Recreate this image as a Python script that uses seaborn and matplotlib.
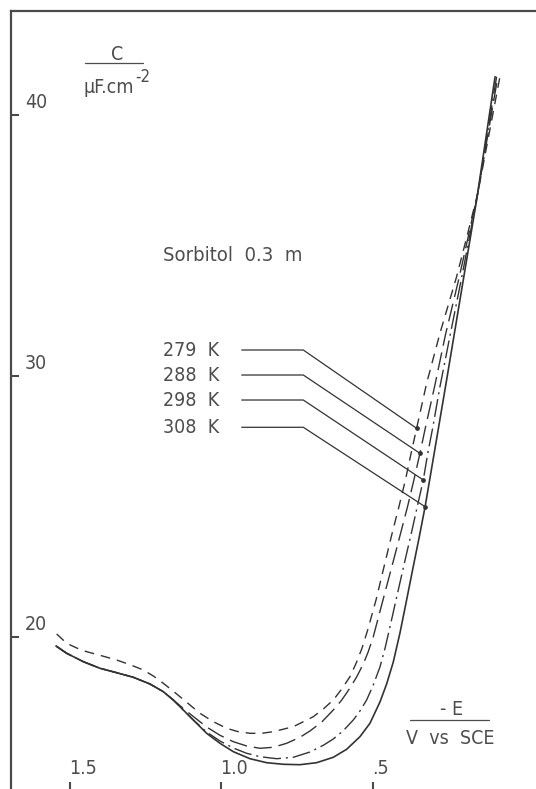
import matplotlib
matplotlib.use("Agg")
import matplotlib.pyplot as plt
import pandas as pd
import seaborn as sns

# -E (V vs SCE) and differential capacitance C (µF cm^-2), sorbitol 0.3 m
temperatures = ["279 K", "288 K", "298 K", "308 K"]

e_279 = [1.544, 1.511, 1.478, 1.445, 1.401, 1.346, 1.302, 1.258, 1.225, 1.192,
         1.164, 1.137, 1.104, 1.071, 1.027, 0.983, 0.945, 0.906, 0.867, 0.829,
         0.763, 0.697, 0.664, 0.631, 0.603, 0.576, 0.556, 0.536, 0.517, 0.490,
         0.459, 0.435, 0.415, 0.393, 0.374, 0.356, 0.323, 0.279, 0.224, 0.187,
         0.154, 0.081]
c_279 = [20.115, 19.759, 19.579, 19.437, 19.299, 19.119, 18.939, 18.736, 18.506, 18.226,
         17.969, 17.713, 17.395, 17.077, 16.755, 16.502, 16.372, 16.310, 16.310, 16.372,
         16.563, 16.946, 17.241, 17.586, 18.008, 18.479, 18.985, 19.579, 20.287, 21.418,
         22.912, 24.061, 24.962, 26.015, 27.050, 27.996, 29.720, 31.636, 33.805, 35.479,
         37.011, 41.467]

e_288 = [1.546, 1.511, 1.456, 1.401, 1.346, 1.291, 1.236, 1.192, 1.159,
         1.126, 1.093, 1.049, 1.005, 0.961, 0.917, 0.873, 0.829, 0.785, 0.741,
         0.708, 0.669, 0.631, 0.603, 0.576, 0.554, 0.532, 0.516, 0.499, 0.467,
         0.432, 0.406, 0.386, 0.365, 0.345, 0.328, 0.297, 0.261, 0.216, 0.183,
         0.154, 0.088]
c_288 = [19.655, 19.376, 19.054, 18.801, 18.632, 18.456, 18.199, 17.904, 17.586,
         17.261, 16.954, 16.552, 16.234, 15.989, 15.824, 15.736, 15.774, 15.927, 16.157,
         16.399, 16.743, 17.203, 17.586, 18.046, 18.468, 18.966, 19.425, 20.012, 21.418,
         22.950, 24.100, 24.992, 26.015, 27.038, 27.969, 29.579, 31.571, 33.755, 35.479,
         37.011, 41.467]

e_298 = [1.546, 1.511, 1.456, 1.401, 1.346, 1.291, 1.236, 1.192, 1.159, 1.126, 1.093,
         1.049, 1.005, 0.961, 0.917, 0.873, 0.818, 0.763, 0.708, 0.664, 0.631,
         0.598, 0.565, 0.543, 0.521, 0.499, 0.477, 0.460, 0.444, 0.424, 0.394,
         0.371, 0.354, 0.334, 0.319, 0.303, 0.279, 0.244, 0.207, 0.179, 0.154,
         0.092]
c_298 = [19.655, 19.376, 19.054, 18.801, 18.632, 18.456, 18.199, 17.904, 17.586, 17.203, 16.820,
         16.360, 16.015, 15.747, 15.544, 15.414, 15.337, 15.391, 15.594, 15.851, 16.092,
         16.410, 16.820, 17.165, 17.586, 18.161, 18.851, 19.579, 20.383, 21.418, 22.950,
         24.100, 24.992, 26.015, 27.050, 28.008, 29.590, 31.648, 33.793, 35.479, 37.011,
         41.467]

e_308 = [1.546, 1.511, 1.456, 1.401, 1.346, 1.291, 1.236, 1.192, 1.159, 1.126,
         1.093, 1.049, 1.005, 0.961, 0.906, 0.851, 0.796, 0.741, 0.686, 0.631,
         0.587, 0.543, 0.510, 0.477, 0.455, 0.433, 0.411, 0.389, 0.368, 0.348,
         0.328, 0.299, 0.257, 0.213, 0.158, 0.097]
c_308 = [19.655, 19.376, 19.054, 18.801, 18.632, 18.456, 18.199, 17.904, 17.586, 17.203,
         16.820, 16.310, 15.927, 15.606, 15.337, 15.184, 15.123, 15.107, 15.184, 15.391,
         15.697, 16.180, 16.694, 17.510, 18.199, 19.042, 20.153, 21.418, 22.644, 23.793,
         24.992, 26.973, 29.847, 32.912, 36.743, 41.467]

# where each temperature's leader line meets its curve
pointer_e = [0.356, 0.345, 0.334, 0.328]
pointer_c = [27.996, 27.038, 26.015, 24.992]
# height of each temperature label and its leader line
label_c = [30.996, 30.038, 29.080, 28.035]

x_ticks = [1.5, 1.0, 0.5]
x_tick_labels = ["1.5", "1.0", ".5"]
y_ticks = [20, 30, 40]
y_tick_labels = ["20", "30", "40"]

frames = []
for temp, e, c in zip(temperatures, [e_279, e_288, e_298, e_308],
                      [c_279, c_288, c_298, c_308]):
    frames.append(pd.DataFrame({"E": e, "C": c, "temp": temp}))
data = pd.concat(frames, ignore_index=True)

sns.set_style("white")
plt.rcParams["font.family"] = ["DejaVu Sans"]
plt.rcParams["lines.scale_dashes"] = False

ink = "#333333"
text_ink = "#4d4d4d"
font = dict(family="DejaVu Sans", fontstretch="condensed", color=text_ink)

fig = plt.figure(figsize=(5.36, 7.89), dpi=100)
fig.patch.set_facecolor("white")
ax = fig.add_axes([0.0196, 0.0, 0.9804, 0.98606])

line_styles = {
    "279 K": (0, (7, 5)),
    "288 K": (0, (13, 5)),
    "298 K": (0, (13, 3.5, 1.5, 3.5)),
    "308 K": "-",
}
line_widths = {"279 K": 1.0, "288 K": 1.0, "298 K": 1.0, "308 K": 1.2}

for temp in temperatures:
    sns.lineplot(data=data[data["temp"] == temp], x="E", y="C", ax=ax,
                 color=ink, linewidth=line_widths[temp],
                 linestyle=line_styles[temp], estimator=None, sort=False,
                 legend=False)

ax.set_xlim(1.6963, -0.0380)
ax.set_ylim(14.176, 43.985)
ax.set_xlabel("")
ax.set_ylabel("")

for side in ["right", "bottom"]:
    ax.spines[side].set_visible(False)
for side in ["left", "top"]:
    ax.spines[side].set_color("#4a4a4a")
    ax.spines[side].set_linewidth(1.6)

ax.set_xticks(x_ticks)
ax.set_yticks(y_ticks)
ax.tick_params(axis="x", direction="in", length=5, width=1.5, color="#4a4a4a",
               labelbottom=False, bottom=True, top=False)
ax.tick_params(axis="y", direction="in", length=6, width=1.5, color="#4a4a4a",
               labelleft=False, left=True, right=False)

for v, lbl in zip(x_ticks, x_tick_labels):
    ax.annotate(lbl, xy=(v, 0), xycoords=ax.get_xaxis_transform(),
                xytext=(-0.8, 8), textcoords="offset points",
                ha="left", va="bottom", fontsize=14, **font)
for v, lbl in zip(y_ticks, y_tick_labels):
    ax.annotate(lbl, xy=(0, v), xycoords=ax.get_yaxis_transform(),
                xytext=(10.4, 2.5), textcoords="offset points",
                ha="left", va="bottom", fontsize=14, **font)

# y-axis quantity written as a fraction
ax.text(1.345, 42.30, "C", ha="center", va="center", fontsize=14, **font)
ax.plot([1.4505, 1.2591], [41.99, 41.99], color=text_ink, lw=0.9)
ax.text(1.457, 41.035, "µF.cm", ha="left", va="center", fontsize=14, **font)
ax.text(1.286, 41.456, "-2", ha="left", va="center", fontsize=12, **font)

# x-axis quantity written as a fraction
ax.text(0.2393, 17.24, "- E", ha="center", va="center", fontsize=14, **font)
ax.plot([0.3779, 0.1172], [16.82, 16.82], color=text_ink, lw=0.9)
ax.text(0.2459, 16.13, "V  vs  SCE", ha="center", va="center", fontsize=14, **font)

ax.text(1.192, 34.636, "Sorbitol  0.3  m", ha="left", va="center",
        fontsize=14.5, **font)

# temperature labels with leader lines to their curves
lead_start, lead_knee = 0.9333, 0.7300
for temp, pe, pc, lc in zip(temperatures, pointer_e, pointer_c, label_c):
    ax.text(1.192, lc, temp.replace(" ", "  "), ha="left", va="center",
            fontsize=14, **font)
    ax.plot([lead_start, lead_knee, pe], [lc, lc, pc], color=ink, lw=0.9)
    ax.plot([pe], [pc], marker="o", ms=2.4, color=ink, lw=0)

fig.savefig("out.png", dpi=100)
